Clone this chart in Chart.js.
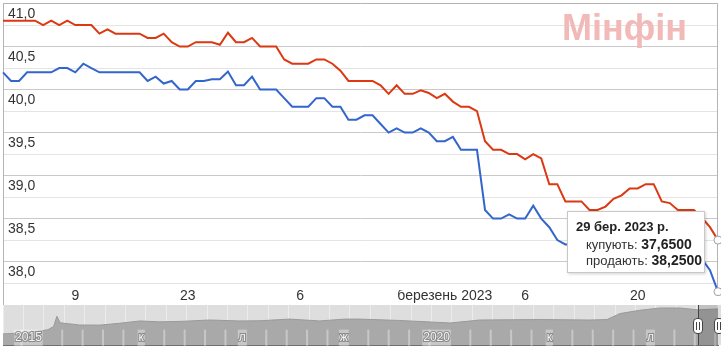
<!DOCTYPE html>
<html><head><meta charset="utf-8">
<script src="https://cdn.jsdelivr.net/npm/chart.js@4/dist/chart.umd.min.js"></script>
<style>
html,body{margin:0;padding:0;background:#fff;}
#wrap{position:relative;width:721px;height:348px;overflow:hidden;font-family:"Liberation Sans",Arial,sans-serif;}
#main{position:absolute;left:0;top:0;}
#nav{position:absolute;left:0;top:305px;}
#wm{position:absolute;left:562px;top:10px;font:bold 36px/36px "Liberation Sans",Arial,sans-serif;color:#f2b9b9;white-space:nowrap;}
#tip{position:absolute;left:567px;top:211px;width:136px;height:60px;background:#fff;border:1px solid #c8c8c8;box-shadow:1px 1px 3px rgba(0,0,0,.18);color:#222;}
#tip .t{position:absolute;left:8px;top:7px;font:bold 13px/16px "Liberation Sans",Arial,sans-serif;white-space:nowrap;}
#tip .r{position:absolute;left:18px;font:13px/16px "Liberation Sans",Arial,sans-serif;white-space:nowrap;color:#333;}
#tip .r b{font-size:14px;color:#222;}
#sel{position:absolute;left:698px;top:305px;width:23px;height:40px;background:rgba(0,0,0,.13);border-left:1px solid #444;}
.hd{position:absolute;top:318px;width:8px;height:14px;background:#fff;border:1px solid #444;border-radius:4px;}
.hd:before,.hd:after{content:"";position:absolute;top:3px;width:1px;height:8px;background:#444;}
.hd:before{left:2px}.hd:after{left:5px}
</style></head>
<body>
<div id="wrap">
<canvas id="main" width="721" height="348"></canvas>
<canvas id="nav" width="721" height="43"></canvas>
<div id="sel"></div>
<div class="hd" style="left:693px"></div>
<div class="hd" style="left:714px"></div>
<div id="wm">Мінфін</div>
<div id="tip">
  <div class="t">29 бер. 2023 р.</div>
  <div class="r" style="top:24px">купують: <b>37,6500</b></div>
  <div class="r" style="top:40px">продають: <b>38,2500</b></div>
</div>
</div>
<script>
// ---- data ----
const startDate = new Date(Date.UTC(2022, 11, 31));
const dates = [];
for (let i = 0; i < 90; i++) {
  const d = new Date(startDate.getTime() + i * 86400000);
  dates.push(d.toISOString().slice(0, 10));
}
// продають (sell)
const sell = [
 41.05,41.05,41.05,41.05,41.05,41.00,41.05,41.00,41.05,41.00,
 41.00,41.00,40.90,40.95,40.90,40.90,40.90,40.90,40.85,40.85,
 40.90,40.80,40.75,40.75,40.80,40.80,40.80,40.77,40.91,40.80,
 40.80,40.85,40.75,40.75,40.75,40.60,40.55,40.55,40.55,40.60,
 40.60,40.55,40.47,40.35,40.35,40.35,40.35,40.30,40.20,40.30,
 40.20,40.20,40.24,40.21,40.15,40.20,40.11,40.05,40.05,40.00,
 39.65,39.55,39.55,39.50,39.50,39.44,39.50,39.45,39.15,39.15,
 38.95,38.95,38.95,38.85,38.85,38.89,38.98,39.02,39.10,39.10,
 39.15,39.15,38.95,38.93,38.85,38.85,38.85,38.76,38.65,38.50
];
// купують (buy)
const buy = [
 40.45,40.35,40.35,40.45,40.45,40.45,40.45,40.50,40.50,40.45,
 40.55,40.50,40.45,40.45,40.45,40.45,40.45,40.45,40.35,40.40,
 40.32,40.35,40.25,40.25,40.35,40.35,40.37,40.37,40.46,40.30,
 40.30,40.40,40.25,40.25,40.25,40.15,40.05,40.05,40.05,40.15,
 40.15,40.05,40.05,39.90,39.90,39.95,39.95,39.85,39.75,39.80,
 39.75,39.75,39.80,39.75,39.65,39.65,39.70,39.55,39.55,39.55,
 38.85,38.75,38.75,38.80,38.75,38.75,38.90,38.75,38.65,38.50,
 38.45,38.45,38.45,38.35,38.35,38.40,38.45,38.50,38.55,38.55,
 38.60,38.60,38.45,38.40,38.35,38.35,38.35,38.28,38.15,37.90
];
const xTickDates  = ['2023-01-09','2023-01-23','2023-02-06','2023-02-24','2023-03-06','2023-03-20'];
const xTickLabels = ['9','23','6','березень 2023','6','20'];

// navigator (long history)
const navTime  = [2014.50,2014.70,2014.90,2015.05,2015.12,2015.16,2015.20,2015.30,2015.44,2015.69,
                  2015.93,2016.18,2016.42,2016.67,2017.03,2017.40,2017.65,2018.01,2018.38,2018.69,
                  2018.87,2019.36,2019.98,2020.34,2021.08,2021.69,2021.90,2022.06,2022.30,2022.55,
                  2022.79,2023.01,2023.26];
const navValue = [12.0,12.8,14.5,16.5,20.0,31.0,24.0,23.0,21.6,21.5,
                  23.5,26.0,25.0,25.5,27.0,26.0,26.2,28.0,26.0,28.0,
                  28.0,26.5,23.8,27.0,27.5,27.0,27.5,34.0,37.5,40.0,
                  40.0,38.0,39.0];
const navTickTimes  = [2015, 2016.25, 2017.5, 2018.75, 2020, 2021.25, 2022.5];
const navTickLabels = ['2015','к','л','ж','2020','к','л'];

// ---- charts ----
const FONT = '"Liberation Sans", Arial, sans-serif';
const tickMap = {};
xTickDates.forEach((d, i) => { tickMap[dates.indexOf(d)] = xTickLabels[i]; });
const noPad = s => { s.paddingTop = 0; s.paddingBottom = 0; s.paddingLeft = 0; s.paddingRight = 0; };

const frame = {
  id: 'frame',
  beforeDatasetsDraw(chart) {
    const {ctx, chartArea: a} = chart;
    ctx.save();
    ctx.strokeStyle = '#b4b4b4';
    ctx.lineWidth = 1;
    ctx.beginPath();
    ctx.moveTo(Math.round(a.left) + 0.5, 305);
    ctx.lineTo(Math.round(a.left) + 0.5, Math.round(a.top) + 0.5);
    ctx.lineTo(Math.round(a.right) - 0.5, Math.round(a.top) + 0.5);
    ctx.lineTo(Math.round(a.right) - 0.5, Math.round(a.bottom));
    ctx.stroke();
    ctx.restore();
  }
};

const lastIdx = dates.length - 1;
const ptR = c => c.dataIndex === lastIdx ? 4 : 0;

new Chart(document.getElementById('main'), {
  type: 'line',
  data: {
    labels: dates,
    datasets: [
      {label: 'продають', data: sell, borderColor: '#dc3912', borderWidth: 2, tension: 0,
       pointRadius: ptR, pointBackgroundColor: '#fff', pointBorderColor: '#a0a0a0', pointBorderWidth: 1, clip: 6},
      {label: 'купують', data: buy, borderColor: '#3366cc', borderWidth: 2, tension: 0,
       pointRadius: ptR, pointBackgroundColor: '#fff', pointBorderColor: '#a0a0a0', pointBorderWidth: 1, clip: 6}
    ]
  },
  options: {
    responsive: false, animation: false, devicePixelRatio: 1,
    layout: {autoPadding: false, padding: {left: 3, right: 3, top: 3, bottom: 38}},
    plugins: {legend: {display: false}, tooltip: {enabled: false}},
    scales: {
      x: {
        afterFit: s => { s.height = 20; noPad(s); },
        ticks: {autoSkip: false, maxRotation: 0, minRotation: 0, padding: -2,
                font: {family: FONT, size: 14}, color: '#333',
                callback: (v, i) => tickMap[i] || ''},
        grid: {display: false, drawTicks: false}, border: {display: false}
      },
      y: {
        min: 37.92, max: 41.256,
        afterFit: s => { s.width = 0; noPad(s); },
        ticks: {stepSize: 0.25, includeBounds: false, mirror: true, padding: 5, labelOffset: -11,
                font: {family: FONT, size: 14}, color: '#333',
                callback: v => (Math.abs(v * 2 - Math.round(v * 2)) < 1e-6) ? v.toFixed(1).replace('.', ',') : ''},
        grid: {drawTicks: false,
               color: c => (Math.abs(c.tick.value * 2 - Math.round(c.tick.value * 2)) < 1e-6) ? '#e4e4e4' : '#c9c9c9'},
        border: {display: false}
      }
    }
  },
  plugins: [frame]
});

const navBg = {
  id: 'navBg',
  beforeDraw(chart) {
    const {ctx, chartArea: a} = chart;
    ctx.save();
    ctx.fillStyle = '#dedede';
    ctx.fillRect(a.left, a.top, a.right - a.left, a.bottom - a.top);
    ctx.restore();
  }
};

new Chart(document.getElementById('nav'), {
  type: 'line',
  data: {
    datasets: [{data: navTime.map((t, i) => ({x: t, y: navValue[i]})), fill: 'origin',
                backgroundColor: '#a9a9a9', borderColor: '#9a9a9a', borderWidth: 1, pointRadius: 0, tension: 0}]
  },
  options: {
    responsive: false, animation: false, devicePixelRatio: 1,
    layout: {autoPadding: false, padding: {left: 3, right: 3, top: 0, bottom: 3}},
    plugins: {legend: {display: false}, tooltip: {enabled: false}},
    scales: {
      x: {
        type: 'linear', min: 2014.5, max: 2023.26,
        afterFit: s => { s.height = 0; noPad(s); },
        ticks: {z: 1, stepSize: 0.25, includeBounds: false, autoSkip: false, maxRotation: 0, mirror: true, align: 'end',
                padding: 0, labelOffset: -2, font: {family: FONT, size: 12}, color: '#f4f4f4',
                textStrokeColor: '#8a8a8a', textStrokeWidth: 2,
                showLabelBackdrop: true, backdropColor: 'rgba(255,255,255,0.35)', backdropPadding: 1,
                callback: v => { const k = navTickTimes.findIndex(t => Math.abs(t - v) < 1e-6); return k >= 0 ? navTickLabels[k] : ''; }},
        grid: {color: '#ececec', drawTicks: false},
        border: {display: true, color: '#707070'}
      },
      y: {display: false, min: 0, max: 43.24, afterFit: s => { noPad(s); }}
    }
  },
  plugins: [navBg]
});
</script>
</body></html>
